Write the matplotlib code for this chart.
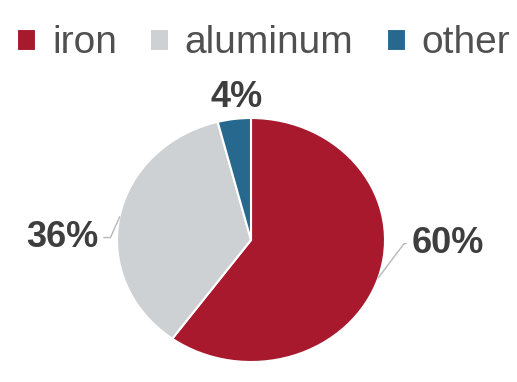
import matplotlib

matplotlib.use("Agg")
import matplotlib.pyplot as plt

# data
labels = ["iron", "aluminum", "other"]
shares = [60, 36, 4]
colors = ["#A8192E", "#CDD1D4", "#27688E"]

plt.rcParams["font.family"] = ["Liberation Sans", "DejaVu Sans"]

fig = plt.figure(figsize=(5.17, 3.82), dpi=100)
# pie is drawn slightly wider than tall, like the reference
ax = fig.add_axes([117 / 517, 20 / 382, 268 / 517, 244 / 382])

wedges, _ = ax.pie(
    shares,
    colors=colors,
    startangle=90,
    counterclock=False,
    radius=1.0,
    wedgeprops={"edgecolor": "white", "linewidth": 1.5},
)
ax.set_aspect("auto")
ax.set_xlim(-1, 1)
ax.set_ylim(-1, 1)
ax.axis("off")

txt = dict(fontsize=26, fontweight="bold", color="#3E3E3E", ha="center", va="center")
line = dict(arrowstyle="-", color="#B8B8B8", lw=1.0, shrinkB=0)

ax.annotate(f"{shares[0]}%", xy=(0.95, -0.31), xytext=(1.47, -0.03),
            arrowprops=dict(line, connectionstyle="angle,angleA=0,angleB=53"), **txt)
ax.annotate(f"{shares[1]}%", xy=(-0.98, 0.19), xytext=(-1.41, 0.02),
            arrowprops=dict(line, connectionstyle="angle,angleA=0,angleB=66"), **txt)
ax.text(-0.11, 1.17, f"{shares[2]}%", **txt)

fig.legend(wedges, labels, loc="upper center", bbox_to_anchor=(0.51, 1.025),
           ncol=3, frameon=False, fontsize=28, labelcolor="#505050",
           handlelength=0.5, handleheight=0.5, handletextpad=0.4,
           columnspacing=0.85)

fig.savefig("out.png", dpi=100)
